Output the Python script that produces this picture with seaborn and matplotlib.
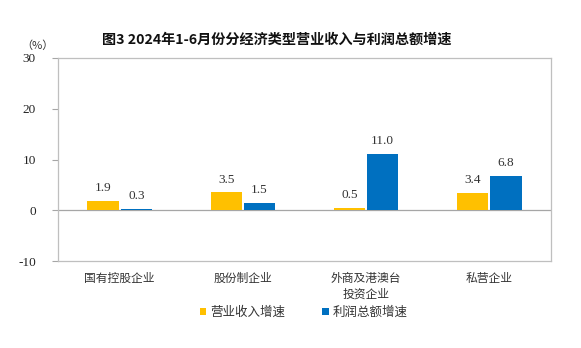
import matplotlib
matplotlib.use("Agg")
import matplotlib.pyplot as plt
import seaborn as sns
import pandas as pd

categories = ["国有控股企业", "股份制企业", "外商及港澳台\n投资企业", "私营企业"]
series_names = ["营业收入增速", "利润总额增速"]
revenue_growth = [1.9, 3.5, 0.5, 3.4]
profit_growth = [0.3, 1.5, 11.0, 6.8]
y_ticks = [-10, 0, 10, 20, 30]
colors = ["#FFC000", "#0070C0"]

sns.set_theme(style="white")
plt.rcParams["font.family"] = ["Noto Sans CJK SC", "DejaVu Sans"]

df = pd.DataFrame({
    "category": categories * 2,
    "series": [series_names[0]] * 4 + [series_names[1]] * 4,
    "value": revenue_growth + profit_growth,
})

fig = plt.figure(figsize=(5.81, 3.48), dpi=100)
ax = fig.add_axes([58 / 581, 1 - 261 / 348, (551 - 58) / 581, (261 - 58) / 348])

sns.barplot(data=df, x="category", y="value", hue="series", palette=colors,
            width=0.54, gap=0.06, ax=ax, legend=True, saturation=1,
            linewidth=0, edgecolor="none")

serif = ["Liberation Serif", "DejaVu Serif"]
for container in ax.containers:
    ax.bar_label(container, fmt="%.1f", padding=5, fontsize=9.5,
                 family=serif, color="#333333")

ax.set_ylim(-10, 30)
ax.set_yticks(y_ticks)
ax.set_yticklabels([str(t) for t in y_ticks], family=serif, fontsize=9.5, color="#222222")
ax.set_xlabel("")
ax.set_ylabel("")
ax.tick_params(axis="y", left=True, length=4, width=0.8, color="#A6A6A6", pad=12)
ax.tick_params(axis="x", bottom=False, pad=2)
for lab in ax.get_xticklabels():
    lab.set_fontsize(8.5)
    lab.set_color("#333333")
    lab.set_linespacing(1.25)
    lab.set_verticalalignment("top")

for s in ax.spines.values():
    s.set_visible(True)
    s.set_color("#BFBFBF")
    s.set_linewidth(0.9)
ax.axhline(0, color="#A6A6A6", linewidth=0.9, zorder=0.5)

leg = ax.legend(loc="upper center", bbox_to_anchor=(0.5 - 1 / 493, -0.165), ncol=2,
                frameon=False, fontsize=9, handlelength=0.5, handleheight=0.5,
                handletextpad=0.3, columnspacing=3.0)
for t in leg.get_texts():
    t.set_color("#333333")

fig.text(277 / 581, 1 - 40 / 348, "图3 2024年1-6月份分经济类型营业收入与利润总额增速",
         ha="center", va="center", fontsize=10.2, fontweight="bold", color="#111111")
fig.text(37 / 581, 1 - 46 / 348, "（%）", ha="center", va="center",
         fontsize=8, color="#333333")

fig.savefig("out.png", dpi=100)
